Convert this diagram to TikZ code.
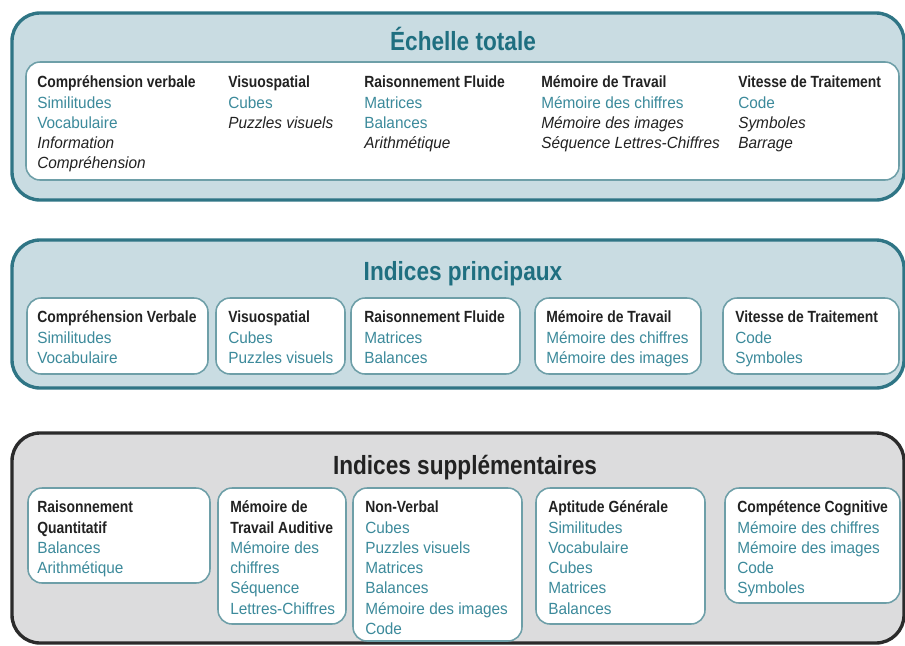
\documentclass[tikz,border=0pt]{standalone}
\usepackage{fontspec}
\setmainfont{Liberation Sans}[FakeStretch=0.95]
\newfontfamily\hdfont{Liberation Sans}[FakeStretch=0.86]

\definecolor{panelblue}{HTML}{C9DCE2}
\definecolor{panelgrey}{HTML}{DCDCDD}
\definecolor{rimteal}{HTML}{2F7585}
\definecolor{rimdark}{HTML}{2B2B2B}
\definecolor{boxrim}{HTML}{6E9FA8}
\definecolor{titleteal}{HTML}{1F6F80}
\definecolor{itemteal}{HTML}{3C8A9B}
\definecolor{darktext}{HTML}{222222}

% Line kinds
\newcommand\hdr[1]{{\hdfont\bfseries\color{darktext}#1}}
\newcommand\tcore[1]{{\color{itemteal}#1}}
\newcommand\topt[1]{{\itshape\color{darktext}#1}}

\tikzset{
  panel/.style={line width=2.4pt, rounded corners=0.7cm},
  subbox/.style={draw=boxrim, fill=white, line width=1.1pt, rounded corners=0.35cm},
  title/.style={anchor=base, inner sep=0pt,
    font=\hdfont\bfseries\fontsize{18.7}{22}\selectfont},
  col/.style={anchor=north west, inner sep=0pt, yshift=10.08pt, align=left,
    font=\fontsize{11.5}{14.4}\selectfont, execute at begin node=\strut},
}

\begin{document}
\begin{tikzpicture}[x=0.025cm,y=-0.025cm]
  \useasboundingbox (0,0) rectangle (905,645);

  % Echelle totale
  \draw[panel, draw=rimteal, fill=panelblue] (12,13) rectangle (904,200);
  \node[title, text=titleteal] (ttot) at (463,50) {Échelle totale};
  \draw[subbox] (26,62) rectangle (899,180);
  \node[col] (tcv) at (37,90) {\hdr{Compréhension verbale}\\ \tcore{Similitudes}\\
    \tcore{Vocabulaire}\\ \topt{Information}\\ \topt{Compréhension}};
  \node[col] (tvs) at (228,90) {\hdr{Visuospatial}\\ \tcore{Cubes}\\ \topt{Puzzles visuels}};
  \node[col] (trf) at (364,90) {\hdr{Raisonnement Fluide}\\ \tcore{Matrices}\\
    \tcore{Balances}\\ \topt{Arithmétique}};
  \node[col] (tmt) at (541,90) {\hdr{Mémoire de Travail}\\ \tcore{Mémoire des chiffres}\\
    \topt{Mémoire des images}\\ \topt{Séquence Lettres-Chiffres}};
  \node[col] (tvt) at (738,90) {\hdr{Vitesse de Traitement}\\ \tcore{Code}\\
    \topt{Symboles}\\ \topt{Barrage}};

  % Indices principaux
  \draw[panel, draw=rimteal, fill=panelblue] (12,240) rectangle (904,388);
  \node[title, text=titleteal] (tprin) at (463,280) {Indices principaux};
  \foreach \xa/\xb in {27/208, 216/345, 351/520, 535/701, 723/899}
    \draw[subbox] (\xa,298) rectangle (\xb,374);
  \node[col] (pcv) at (37,325) {\hdr{Compréhension Verbale}\\ \tcore{Similitudes}\\
    \tcore{Vocabulaire}};
  \node[col] (pvs) at (228,325) {\hdr{Visuospatial}\\ \tcore{Cubes}\\ \tcore{Puzzles visuels}};
  \node[col] (prf) at (364,325) {\hdr{Raisonnement Fluide}\\ \tcore{Matrices}\\
    \tcore{Balances}};
  \node[col] (pmt) at (546,325) {\hdr{Mémoire de Travail}\\ \tcore{Mémoire des chiffres}\\
    \tcore{Mémoire des images}};
  \node[col] (pvt) at (735,325) {\hdr{Vitesse de Traitement}\\ \tcore{Code}\\
    \tcore{Symboles}};

  % Indices supplementaires
  \draw[panel, draw=rimdark, fill=panelgrey] (12,433) rectangle (904,643);
  \node[title, text=darktext] (tsup) at (465,474) {Indices supplémentaires};
  \draw[subbox] (28,488) rectangle (210,583);
  \draw[subbox] (218,488) rectangle (346,624);
  \draw[subbox] (353,488) rectangle (522,641);
  \draw[subbox] (536,488) rectangle (705,624);
  \draw[subbox] (725,488) rectangle (900,603);
  \node[col] (srq) at (37,515) {\hdr{Raisonnement}\\ \hdr{Quantitatif}\\
    \tcore{Balances}\\ \tcore{Arithmétique}};
  \node[col] (smta) at (230,515) {\hdr{Mémoire de}\\ \hdr{Travail Auditive}\\
    \tcore{Mémoire des}\\ \tcore{chiffres}\\ \tcore{Séquence}\\ \tcore{Lettres-Chiffres}};
  \node[col] (snv) at (365,515) {\hdr{Non-Verbal}\\ \tcore{Cubes}\\ \tcore{Puzzles visuels}\\
    \tcore{Matrices}\\ \tcore{Balances}\\ \tcore{Mémoire des images}\\ \tcore{Code}};
  \node[col] (sag) at (548,515) {\hdr{Aptitude Générale}\\ \tcore{Similitudes}\\
    \tcore{Vocabulaire}\\ \tcore{Cubes}\\ \tcore{Matrices}\\ \tcore{Balances}};
  \node[col] (scc) at (737,515) {\hdr{Compétence Cognitive}\\ \tcore{Mémoire des chiffres}\\
    \tcore{Mémoire des images}\\ \tcore{Code}\\ \tcore{Symboles}};
\end{tikzpicture}
\end{document}
